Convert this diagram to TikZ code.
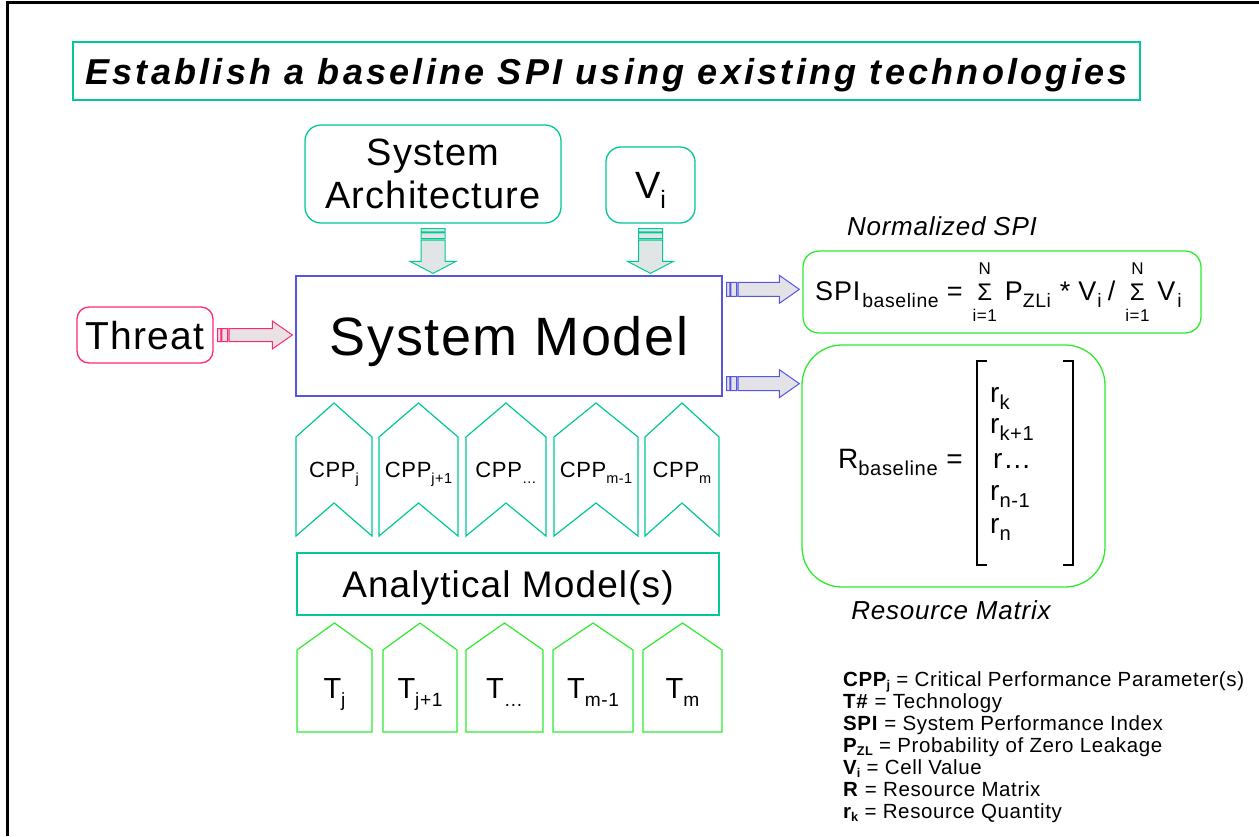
\documentclass[tikz,border=0pt]{standalone}
\usepackage{fontspec}
\setmainfont{Liberation Sans}[LetterSpace=3]
\newfontfamily\titlefont{Liberation Sans}[LetterSpace=9]
\usetikzlibrary{calc}

\definecolor{tealline}{RGB}{0,200,150}
\definecolor{greenline}{RGB}{45,235,45}
\definecolor{pinkline}{RGB}{255,40,120}
\definecolor{blueline}{RGB}{85,85,225}

\newcommand\fs[2]{\fontsize{#1}{#2}\selectfont}
\newcommand\lo[1]{\raisebox{-0.28em}{\scalebox{0.66}{#1}}}
\newcommand\slo[1]{\raisebox{-0.28em}{\scalebox{0.72}{#1}}}
\newcommand\llo[1]{\raisebox{-0.16em}{\scalebox{0.62}{#1}}}
\newcommand\limsum{\ooalign{\hfil{\fs{24}{24}Σ}\hfil\cr
  \hfil\raisebox{0.93em}{\fs{17}{17}N}\hfil\cr
  \hfil\raisebox{-0.78em}{\fs{17}{17}i=1}\hfil\cr}}
\newcommand\tightlines{\lineskiplimit-20pt\relax}

\tikzset{
  fat shaft/.store in=\fashaft, fat head/.store in=\fahead, fat len/.store in=\falen,
  fat shaft=7pt, fat head=14pt, fat len=20pt,
  fatarrow/.style={draw=#1, fill=#1!25!black!12, line width=1pt, line join=miter,
    to path={(\tikztostart) coordinate (fa0) (\tikztotarget) coordinate (fa1)
      ($(fa0)!\fashaft!90:(fa1)$) -- ($(fa0)!\fashaft!-90:(fa1)$)
      -- ($(fa0)!3.3pt!(fa1)!\fashaft!-90:(fa1)$) -- ($(fa0)!3.3pt!(fa1)!\fashaft!90:(fa1)$) -- cycle
      ($(fa0)!4.3pt!(fa1)!\fashaft!90:(fa1)$) -- ($(fa0)!4.3pt!(fa1)!\fashaft!-90:(fa1)$)
      -- ($(fa0)!10pt!(fa1)!\fashaft!-90:(fa1)$) -- ($(fa0)!10pt!(fa1)!\fashaft!90:(fa1)$) -- cycle
      ($(fa0)!11.5pt!(fa1)!\fashaft!90:(fa1)$) -- ($(fa1)!\falen!(fa0)!\fashaft!-90:(fa0)$)
      -- ($(fa1)!\falen!(fa0)!\fahead!-90:(fa0)$) -- (fa1)
      -- ($(fa1)!\falen!(fa0)!\fahead!90:(fa0)$) -- ($(fa1)!\falen!(fa0)!\fashaft!90:(fa0)$)
      -- ($(fa0)!11.5pt!(fa1)!\fashaft!-90:(fa1)$) -- cycle}}
}

\begin{document}
\begin{tikzpicture}[x=1pt,y=-1pt]
 \tikzstyle{plainbox}=[draw, line width=1.3pt, inner sep=0pt, text depth=0pt]
 \tikzstyle{roundbox}=[plainbox, rounded corners=16pt]
 \tikzstyle{sidetext}=[inner sep=0pt, text depth=0pt, font=\fs{26}{26}\itshape]
 \tikzstyle{cppshape}=[draw=tealline, line width=1.2pt, line join=miter]
 \tikzstyle{techshape}=[draw=greenline, line width=1.2pt, line join=miter]
 \tikzstyle{cpptext}=[inner sep=0pt, text depth=0pt, font=\fs{22}{22}]
 \tikzstyle{techtext}=[inner sep=0pt, text depth=0pt, font=\fs{29}{29}]
 \tikzstyle{mathtext}=[inner sep=0pt, font=\fs{28}{28}]
 \tikzstyle{bracket}=[line width=1.3pt]
 %
 \useasboundingbox (0,0) rectangle (1259,836);
 \draw[line width=3pt] (7,836) -- (7,2.5) -- (1259,2.5);
 %
 \node[plainbox, draw=tealline, minimum width=1067, minimum height=58] (title) at (606.5,71)
   {\titlefont\fs{36}{36}\bfseries\itshape Establish a baseline SPI using existing technologies};
 %
 \node[roundbox, draw=tealline, minimum width=256, minimum height=98, align=center,
   font=\fs{38}{43}] (arch) at (433,174) {System\\Architecture};
 \node[roundbox, draw=tealline, minimum width=89, minimum height=76, rounded corners=15pt,
   font=\fs{38}{38}] (vi) at (650.5,185) {V\lo{i}};
 \node[plainbox, draw=blueline, minimum width=426, minimum height=120,
   font=\fs{54}{54}] (model) at (509,336) {System Model};
 \node[roundbox, draw=pinkline, minimum width=136, minimum height=56, rounded corners=12pt,
   font=\fs{39}{39}] (threat) at (145,335) {Threat};
 %
 \node[roundbox, draw=greenline, minimum width=398, minimum height=82] (spi) at (1002,292) {};
 \node[mathtext, font=\fs{27}{27}, anchor=base west] (spitext) at (815,300)
   {SPI\hspace{2pt}\slo{baseline}\hspace{8pt}=\hspace{10pt}\limsum\hspace{8pt}P\slo{ZLi}\hspace{9pt}*\hspace{8pt}V\hspace{1pt}\slo{i}\hspace{6pt}/\hspace{10pt}\limsum\hspace{8pt}V\hspace{2pt}\slo{i}};
 \node[sidetext] (spilabel) at (942,226) {Normalized SPI};
 %
 \node[roundbox, draw=greenline, minimum width=303, minimum height=242, rounded corners=40pt] (res) at (953.5,466) {};
 \node[mathtext, anchor=base west] (rbase) at (838,468) {R\slo{baseline} =};
 \node[mathtext, anchor=base west] (r1) at (990,402) {r\slo{k}};
 \node[mathtext, anchor=base west] (r2) at (990,433) {r\slo{k+1}};
 \node[mathtext, anchor=base west] (r3) at (993,468) {r…};
 \node[mathtext, anchor=base west] (r4) at (990,500) {r\slo{n-1}};
 \node[mathtext, anchor=base west] (r5) at (990,533) {r\slo{n}};
 \draw[bracket] (987,361) -- (977,361) -- (977,565) -- (987,565);
 \draw[bracket] (1063,361) -- (1073,361) -- (1073,565) -- (1063,565);
 \node[sidetext] (reslabel) at (951,610) {Resource Matrix};
 %
 \draw[cppshape] (296,437) -- (334,403) -- (372,437) -- (372,536) -- (334,503) -- (296,536) -- cycle;
 \draw[cppshape] (379,437) -- (418.5,403) -- (458,437) -- (458,536) -- (418.5,503) -- (379,536) -- cycle;
 \draw[cppshape] (466,437) -- (506,403) -- (546,437) -- (546,536) -- (506,503) -- (466,536) -- cycle;
 \draw[cppshape] (554,437) -- (596,403) -- (638,437) -- (638,536) -- (596,503) -- (554,536) -- cycle;
 \draw[cppshape] (645,437) -- (682,403) -- (719,437) -- (719,536) -- (682,503) -- (645,536) -- cycle;
 \node[cpptext] (cpp1) at (334,469.5) {CPP\lo{j}};
 \node[cpptext] (cpp2) at (418.5,469.5) {CPP\lo{j+1}};
 \node[cpptext] (cpp3) at (506,469.5) {CPP\lo{…}};
 \node[cpptext] (cpp4) at (596,469.5) {CPP\lo{m-1}};
 \node[cpptext] (cpp5) at (682,469.5) {CPP\lo{m}};
 %
 \node[plainbox, draw=tealline, minimum width=422, minimum height=62,
   font=\fs{37}{37}] (ana) at (508,584) {Analytical Model(s)};
 %
 \draw[techshape] (297,650) -- (334.5,623) -- (372,650) -- (372,732) -- (297,732) -- cycle;
 \draw[techshape] (383,650) -- (420,623) -- (457,650) -- (457,732) -- (383,732) -- cycle;
 \draw[techshape] (466,650) -- (504.5,623) -- (543,650) -- (543,732) -- (466,732) -- cycle;
 \draw[techshape] (553,650) -- (593,623) -- (633,650) -- (633,732) -- (553,732) -- cycle;
 \draw[techshape] (643,650) -- (682.5,623) -- (722,650) -- (722,732) -- (643,732) -- cycle;
 \node[techtext] (t1) at (334.5,688.5) {T\lo{j}};
 \node[techtext] (t2) at (420,688.5) {T\lo{j+1}};
 \node[techtext] (t3) at (504.5,688.5) {T\lo{…}};
 \node[techtext] (t4) at (593,688.5) {T\lo{m-1}};
 \node[techtext] (t5) at (682.5,688.5) {T\lo{m}};
 %
 \node[inner sep=0pt, text depth=0pt, align=left, anchor=north west,
   font={\fs{20.5}{22}\tightlines}] (legend) at (843,671.5)
   {\textbf{CPP\llo{j}} = Critical Performance Parameter(s)\\
    \textbf{T\#} = Technology\\
    \textbf{SPI} = System Performance Index\\
    \textbf{P\llo{ZL}} = Probability of Zero Leakage\\
    \textbf{V\llo{i}} = Cell Value\\
    \textbf{R} = Resource Matrix\\
    \textbf{r\llo{k}} = Resource Quantity};
 %%
 \coordinate (m1) at ([yshift=-14pt]model.north east);
 \coordinate (m2) at ([yshift=13pt]model.south east);
 \draw[fatarrow=tealline, fat shaft=12pt, fat head=23pt, fat len=12pt] ([yshift=-5pt]arch.south) to ([yshift=2pt]arch.south |- model.north);
 \draw[fatarrow=tealline, fat shaft=12pt, fat head=23pt, fat len=12pt] ([yshift=-5pt]vi.south) to ([yshift=2pt]vi.south |- model.north);
 \draw[fatarrow=pinkline, fat shaft=6.5pt] ([xshift=4pt]threat.east) to ([xshift=-3pt]threat.east -| model.west);
 \draw[fatarrow=blueline] ([xshift=4pt]m1) to ([xshift=-3pt]m1 -| spi.west);
 \draw[fatarrow=blueline] ([xshift=4pt]m2) to ([xshift=-2pt]m2 -| res.west);
\end{tikzpicture}
\end{document}
